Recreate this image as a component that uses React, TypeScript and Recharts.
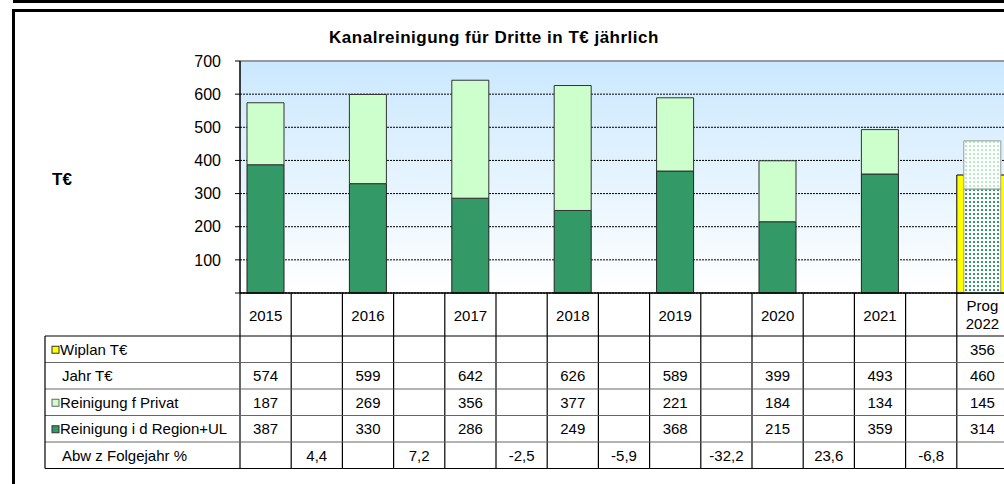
import React from 'react';
import { BarChart, Bar, XAxis, YAxis, CartesianGrid, ReferenceLine, Cell } from 'recharts';

const years = ['2015', '', '2016', '', '2017', '', '2018', '', '2019', '', '2020', '', '2021', '', 'Prog 2022'];
const wiplan = [null, null, null, null, null, null, null, null, null, null, null, null, null, null, 356];
const jahr = [574, null, 599, null, 642, null, 626, null, 589, null, 399, null, 493, null, 460];
const privat = [187, null, 269, null, 356, null, 377, null, 221, null, 184, null, 134, null, 145];
const region = [387, null, 330, null, 286, null, 249, null, 368, null, 215, null, 359, null, 314];
const abw = [null, 4.4, null, 7.2, null, -2.5, null, -5.9, null, -32.2, null, 23.6, null, -6.8, null];
const yTicks = [0, 100, 200, 300, 400, 500, 600, 700];
const rowLabels = ['Wiplan T€', 'Jahr T€', 'Reinigung f Privat', 'Reinigung i d Region+UL', 'Abw z Folgejahr %'];
const title = 'Kanalreinigung für Dritte in T€ jährlich';
const unitLabel = 'T€';

const data = years.map((y, i) => ({
  id: `c${i}`,
  year: y,
  wiplan: wiplan[i],
  privat: privat[i],
  region: region[i],
}));

const PLOT_W = 768;
const COLW = PLOT_W / years.length;
const AXIS_Y = 293;
const ROWS_Y = [336, 362.5, 389, 415.5, 442, 468.5];
const FONT = '"Liberation Sans", Arial, sans-serif';

const fmt = (v: number | null) => (v === null || v === undefined ? '' : String(v));
const fmtPct = (v: number | null) => (v === null || v === undefined ? '' : v.toFixed(1).replace('.', ','));

function TableTick(props: any) {
  const { x, payload } = props;
  const i = parseInt(String(payload.value).slice(1), 10);
  const left = x - COLW / 2;
  const right = x + COLW / 2;
  const rows = [fmt(wiplan[i]), fmt(jahr[i]), fmt(privat[i]), fmt(region[i]), fmtPct(abw[i])];
  const yr = years[i];
  const els: any[] = [];
  if (yr.startsWith('Prog')) {
    const parts = yr.split(' ');
    els.push(
      <text key="y1" x={x} y={305} textAnchor="middle" dominantBaseline="central" fontSize={15} fill="#000" fontFamily={FONT}>{parts[0]}</text>,
      <text key="y2" x={x} y={323} textAnchor="middle" dominantBaseline="central" fontSize={15} fill="#000" fontFamily={FONT}>{parts[1]}</text>
    );
  } else if (yr) {
    els.push(
      <text key="y" x={x} y={315} textAnchor="middle" dominantBaseline="central" fontSize={15} fill="#000" fontFamily={FONT}>{yr}</text>
    );
  }
  els.push(<line key="vr" x1={right} x2={right} y1={AXIS_Y} y2={ROWS_Y[5]} stroke="#000" strokeWidth={1.2} />);
  if (i === 0) {
    els.push(<line key="vl" x1={left} x2={left} y1={AXIS_Y} y2={ROWS_Y[5]} stroke="#000" strokeWidth={1.2} />);
  }
  ROWS_Y.forEach((ry, k) => {
    els.push(<line key={`h${k}`} x1={left} x2={right} y1={ry} y2={ry} stroke={k === 0 || k === 5 ? '#000' : '#666'} strokeWidth={1} />);
  });
  rows.forEach((v, k) => {
    if (v) {
      els.push(
        <text key={`v${k}`} x={x} y={(ROWS_Y[k] + ROWS_Y[k + 1]) / 2} textAnchor="middle" dominantBaseline="central" fontSize={15} fill="#000" fontFamily={FONT}>{v}</text>
      );
    }
  });
  if (i === 0) {
    const lx0 = 45;
    ROWS_Y.forEach((ry, k) => {
      els.push(<line key={`lh${k}`} x1={lx0} x2={left} y1={ry} y2={ry} stroke={k === 0 || k === 5 ? '#000' : '#666'} strokeWidth={1} />);
    });
    els.push(<line key="lv" x1={lx0} x2={lx0} y1={ROWS_Y[0]} y2={ROWS_Y[5]} stroke="#000" strokeWidth={1.2} />);
    const markers: (null | { fill: string; stroke: string })[] = [
      { fill: '#ffff00', stroke: '#333' },
      null,
      { fill: '#ccffcc', stroke: '#666' },
      { fill: '#339966', stroke: '#333' },
      null,
    ];
    rowLabels.forEach((lab, k) => {
      const cy = (ROWS_Y[k] + ROWS_Y[k + 1]) / 2;
      const m = markers[k];
      if (m) {
        els.push(<rect key={`m${k}`} x={52} y={cy - 3} width={7} height={7} fill={m.fill} stroke={m.stroke} strokeWidth={1} />);
      }
      els.push(
        <text key={`l${k}`} x={m ? 60 : 62} y={cy} textAnchor="start" dominantBaseline="central" fontSize={15} fill="#000" fontFamily={FONT}>{lab}</text>
      );
    });
  }
  return <g>{els}</g>;
}

export default function App() {
  return (
    <div style={{ position: 'absolute', left: 0, top: 0, width: 1004, height: 484, overflow: 'hidden', background: '#fff', fontFamily: FONT }}>
      <svg width={0} height={0} style={{ position: 'absolute' }}>
        <defs>
          <linearGradient id="plotBg" x1="0" y1="0" x2="0" y2="1">
            <stop offset="0%" stopColor="#cbe8fe" />
            <stop offset="100%" stopColor="#ffffff" />
          </linearGradient>
          <pattern id="dotsDark" patternUnits="userSpaceOnUse" width={4} height={4}>
            <rect x={0} y={0} width={4} height={4} fill="#ffffff" />
            <rect x={1} y={1} width={2} height={2} fill="#339966" />
          </pattern>
          <pattern id="dotsLight" patternUnits="userSpaceOnUse" width={4} height={4}>
            <rect x={0} y={0} width={4} height={4} fill="#ffffff" />
            <rect x={1} y={1} width={2} height={2} fill="#b3f0c0" />
          </pattern>
        </defs>
      </svg>
      <div style={{ position: 'absolute', left: 13, top: 0, width: 1000, height: 3, background: '#000' }} />
      <div style={{ position: 'absolute', left: 12, top: 9, width: 1010, height: 520, border: '3px solid #000', boxSizing: 'border-box' }} />
      <div style={{ position: 'absolute', left: 294, top: 29, width: 400, lineHeight: '17px', textAlign: 'center', fontWeight: 'bold', fontSize: 17, letterSpacing: 0.5, color: '#000', whiteSpace: 'nowrap' }}>{title}</div>
      <div style={{ position: 'absolute', left: 52, top: 171, lineHeight: '17px', fontWeight: 'bold', fontSize: 17, color: '#000' }}>{unitLabel}</div>
      <div style={{ position: 'absolute', left: 0, top: 0 }}>
        <BarChart width={1010} height={484} data={data} margin={{ top: 61, right: 2, left: 0, bottom: 0 }}>
          <CartesianGrid vertical={false} fill="url(#plotBg)" stroke="#000" strokeDasharray="2 1" yAxisId="a" xAxisId="a" />
          <XAxis xAxisId="a" dataKey="id" interval={0} height={191} tickLine={false} axisLine={{ stroke: '#000', strokeWidth: 1.5 }} tick={<TableTick />} />
          <XAxis xAxisId="b" dataKey="id" hide />
          <YAxis yAxisId="a" width={240} domain={[0, 700]} ticks={yTicks} interval={0} tickSize={5} tickMargin={14}
            tickFormatter={(v: number) => (v === 0 ? '' : String(v))}
            tick={{ fontSize: 16, fill: '#000', fontFamily: FONT }}
            tickLine={{ stroke: '#000' }} axisLine={{ stroke: '#000', strokeWidth: 1.5 }} />
          <YAxis yAxisId="b" domain={[0, 700]} hide />
          <Bar xAxisId="b" yAxisId="b" dataKey="wiplan" barSize={51} fill="#ffff00" stroke="#000" strokeWidth={1} isAnimationActive={false} />
          <Bar xAxisId="a" yAxisId="a" dataKey="region" stackId="s" barSize={37} fill="#339966" stroke="#222" strokeWidth={1} isAnimationActive={false}>
            {data.map((d, i) => (
              <Cell key={i} fill={d.year.startsWith('Prog') ? 'url(#dotsDark)' : '#339966'} stroke={d.year.startsWith('Prog') ? '#999' : '#222'} />
            ))}
          </Bar>
          <Bar xAxisId="a" yAxisId="a" dataKey="privat" stackId="s" barSize={37} fill="#ccffcc" stroke="#333" strokeWidth={1} isAnimationActive={false}>
            {data.map((d, i) => (
              <Cell key={i} fill={d.year.startsWith('Prog') ? 'url(#dotsLight)' : '#ccffcc'} stroke={d.year.startsWith('Prog') ? '#999' : '#333'} />
            ))}
          </Bar>
          <ReferenceLine yAxisId="a" xAxisId="a" y={700} stroke="#999" strokeWidth={2} />
        </BarChart>
      </div>
    </div>
  );
}
